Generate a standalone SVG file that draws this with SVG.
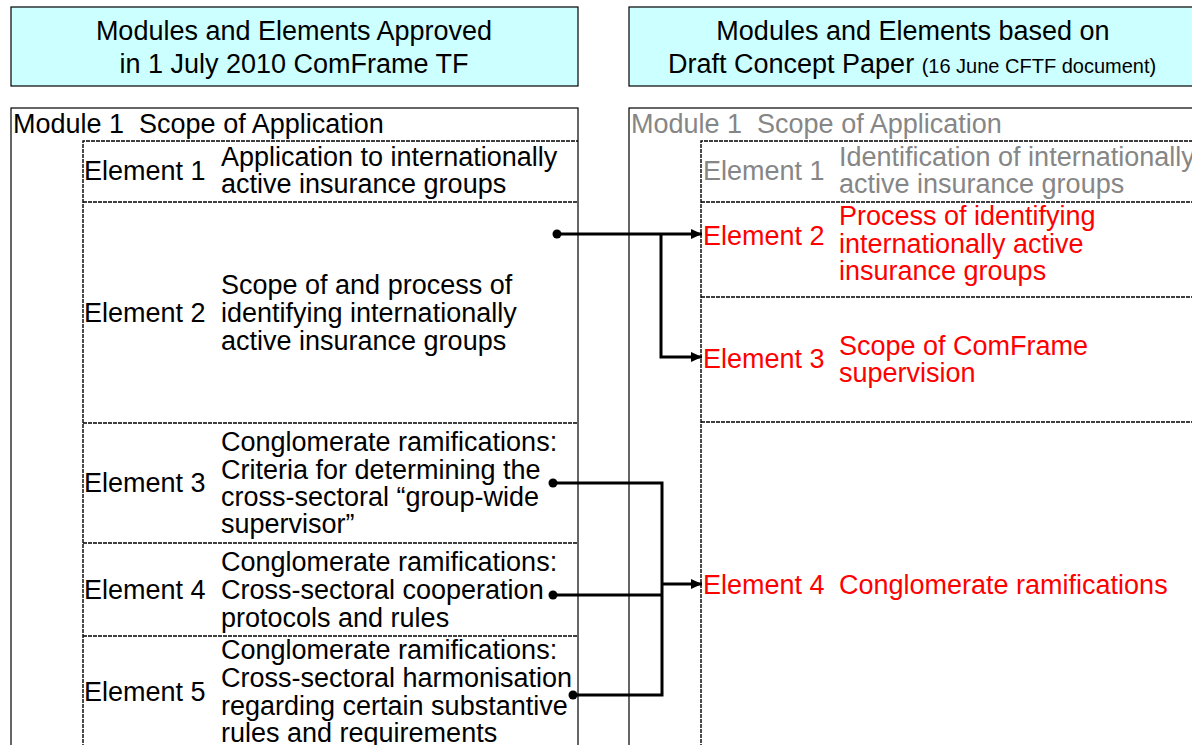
<svg xmlns="http://www.w3.org/2000/svg" width="1192" height="745" viewBox="0 0 1192 745">
  <style>
    text { font-family: "Liberation Sans", Arial, sans-serif; font-size: 27px; fill: #000; }
    .pre { white-space: pre; }
    .hdr { fill: #ccffff; stroke: #000; stroke-width: 1.2; }
    .mod { fill: #fff; stroke: #000; stroke-width: 1.2; }
    .dash { fill: none; stroke: #000; stroke-width: 1.4; stroke-dasharray: 4 1; }
    .grey { fill: #868686; }
    .red { fill: #ff0000; }
    .small { font-size: 20px; }
    .mid { text-anchor: middle; }
    .conn { fill: none; stroke: #000; stroke-width: 3; stroke-linejoin: miter; }
    .dot { fill: #000; }
  </style>
  <defs>
    <marker id="arrow" markerUnits="userSpaceOnUse" markerWidth="12" markerHeight="12" refX="11" refY="5" orient="auto">
      <path d="M0,0 L11,5 L0,10 z" fill="#000"/>
    </marker>
  </defs>

  <rect width="1192" height="745" fill="#fff"/>

  <!-- column headers -->
  <g id="header-left">
    <rect class="hdr" x="11" y="7" width="567" height="79"/>
    <text class="mid" x="294" y="40">Modules and Elements Approved</text>
    <text class="mid" x="294" y="73">in 1 July 2010 ComFrame TF</text>
  </g>
  <g id="header-right">
    <rect class="hdr" x="629" y="7" width="580" height="79"/>
    <text class="mid" x="913" y="40">Modules and Elements based on</text>
    <text x="668" y="73">Draft Concept Paper <tspan class="small">(16 June CFTF document)</tspan></text>
  </g>

  <!-- left column: approved module 1 -->
  <g id="module-left">
    <rect class="mod" x="11" y="108" width="567" height="660"/>
    <text class="pre" x="13" y="133" xml:space="preserve">Module 1  Scope of Application</text>
    <path class="dash" d="M83,768 V141 H578 M83,202 H578 M83,423 H578 M83,543 H578 M83,636 H578"/>
  </g>
  <g id="left-element-1">
    <text x="84" y="180">Element 1</text>
    <text x="221" y="166">Application to internationally</text>
    <text x="221" y="193">active insurance groups</text>
  </g>
  <g id="left-element-2">
    <text x="84" y="322">Element 2</text>
    <text x="221" y="294">Scope of and process of</text>
    <text x="221" y="322">identifying internationally</text>
    <text x="221" y="350">active insurance groups</text>
  </g>
  <g id="left-element-3">
    <text x="84" y="492">Element 3</text>
    <text x="221" y="451">Conglomerate ramifications:</text>
    <text x="221" y="479">Criteria for determining the</text>
    <text x="221" y="506">cross-sectoral “group-wide</text>
    <text x="221" y="533">supervisor”</text>
  </g>
  <g id="left-element-4">
    <text x="84" y="599">Element 4</text>
    <text x="221" y="571">Conglomerate ramifications:</text>
    <text x="221" y="599">Cross-sectoral cooperation</text>
    <text x="221" y="627">protocols and rules</text>
  </g>
  <g id="left-element-5">
    <text x="84" y="701">Element 5</text>
    <text x="221" y="659">Conglomerate ramifications:</text>
    <text x="221" y="687">Cross-sectoral harmonisation</text>
    <text x="221" y="715">regarding certain substantive</text>
    <text x="221" y="742">rules and requirements</text>
  </g>

  <!-- right column: draft module 1 -->
  <g id="module-right">
    <rect class="mod" x="629" y="108" width="600" height="660"/>
    <text class="grey pre" x="631" y="133" xml:space="preserve">Module 1  Scope of Application</text>
    <path class="dash" d="M701,768 V141 H1210 M701,202 H1210 M701,297 H1210 M701,422 H1210"/>
  </g>
  <g id="right-element-1">
    <text class="grey" x="703" y="180">Element 1</text>
    <text class="grey" x="839" y="166">Identification of internationally</text>
    <text class="grey" x="839" y="193">active insurance groups</text>
  </g>
  <g id="right-element-2">
    <text class="red" x="703" y="245">Element 2</text>
    <text class="red" x="839" y="225">Process of identifying</text>
    <text class="red" x="839" y="253">internationally active</text>
    <text class="red" x="839" y="280">insurance groups</text>
  </g>
  <g id="right-element-3">
    <text class="red" x="703" y="368">Element 3</text>
    <text class="red" x="839" y="355">Scope of ComFrame</text>
    <text class="red" x="839" y="382">supervision</text>
  </g>
  <g id="right-element-4">
    <text class="red" x="703" y="594">Element 4</text>
    <text class="red" x="839" y="594">Conglomerate ramifications</text>
  </g>

  <!-- connectors -->
  <g id="connectors">
    <circle class="dot" cx="557" cy="234" r="4.5"/>
    <path class="conn" d="M557,234 H702" marker-end="url(#arrow)"/>
    <path class="conn" d="M661,234 V357 H702" marker-end="url(#arrow)"/>

    <circle class="dot" cx="553" cy="483" r="4.5"/>
    <circle class="dot" cx="553" cy="595" r="4.5"/>
    <circle class="dot" cx="573" cy="695" r="4.5"/>
    <path class="conn" d="M553,483 H662 V695 H573"/>
    <path class="conn" d="M553,595 H662"/>
    <path class="conn" d="M662,584 H702" marker-end="url(#arrow)"/>
  </g>
</svg>
